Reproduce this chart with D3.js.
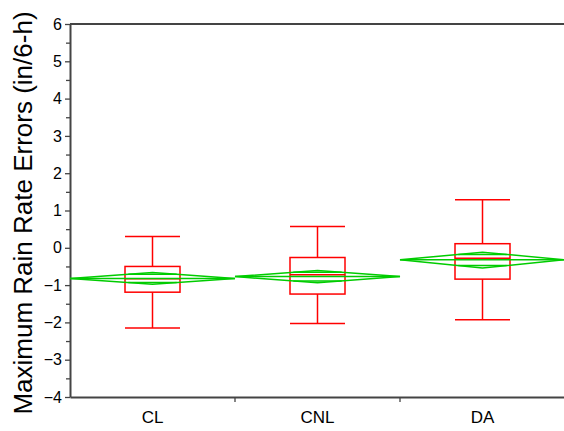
<!DOCTYPE html>
<html>
<head>
<meta charset="utf-8">
<script src="https://cdn.jsdelivr.net/npm/d3@7"></script>
<style>
  html, body { margin: 0; padding: 0; background: #fff; }
  svg { display: block; font-family: Arial, "Liberation Sans", Helvetica, sans-serif; }
</style>
</head>
<body>
<svg id="chart" width="564" height="431"></svg>
<script>
// Groups and their summary statistics (in/6-h)
const categories  = ["CL", "CNL", "DA"];
const whiskerHigh = [0.30, 0.57, 1.29];
const q3          = [-0.50, -0.26, 0.11];
const median      = [-0.83, -0.72, -0.28];
const q1          = [-1.19, -1.24, -0.84];
const whiskerLow  = [-2.15, -2.03, -1.93];
// Means diamonds: group mean with its confidence interval
const means       = [-0.82, -0.77, -0.32];
const ciLow       = [-0.98, -0.94, -0.54];
const ciHigh      = [-0.66, -0.61, -0.12];
const yTicks      = [-4, -3, -2, -1, 0, 1, 2, 3, 4, 5, 6];
const yTitle      = "Maximum Rain Rate Errors (in/6-h)";

const svg = d3.select("#chart");
const plotLeft = 70, plotRight = 565, plotTop = 24, plotBottom = 397;

const x = d3.scaleBand().domain(categories).range([plotLeft, plotRight]).padding(0);
const y = d3.scaleLinear().domain([-4, 6]).range([plotBottom, plotTop]);

const axisColor = "#444";
const red = "#ff0000";
const green = "#00cc00";

// frame: top border
svg.append("line")
  .attr("x1", plotLeft).attr("x2", plotRight).attr("y1", plotTop).attr("y2", plotTop)
  .attr("stroke", axisColor).attr("stroke-width", 2);

// y axis with minor ticks at half units
const yMinor = d3.range(-3.5, 6, 1);
svg.append("g")
  .attr("transform", `translate(${plotLeft},0)`)
  .call(d3.axisLeft(y).tickValues(yMinor).tickSize(4).tickFormat(""))
  .call(g => g.select(".domain").remove())
  .call(g => g.selectAll("line").attr("stroke", axisColor).attr("stroke-width", 1.3));

const yAxis = svg.append("g")
  .attr("transform", `translate(${plotLeft},0)`)
  .call(d3.axisLeft(y).tickValues(yTicks).tickSize(5).tickSizeOuter(0).tickPadding(3).tickFormat(d3.format("d")));
yAxis.select(".domain").attr("stroke", axisColor).attr("stroke-width", 2);
yAxis.selectAll("line").attr("stroke", axisColor).attr("stroke-width", 1.3);
yAxis.selectAll("text").attr("font-size", 16).attr("fill", "#000")
  .attr("font-family", "Arial, 'Liberation Sans', sans-serif");

// x axis: ticks mark boundaries between groups
const xAxis = svg.append("g")
  .attr("transform", `translate(0,${plotBottom})`)
  .call(d3.axisBottom(x).tickSize(0).tickSizeOuter(0).tickPadding(14));
xAxis.select(".domain").attr("stroke", axisColor).attr("stroke-width", 2);
xAxis.selectAll("text").attr("font-size", 17).attr("fill", "#000")
  .attr("font-family", "Arial, 'Liberation Sans', sans-serif");
xAxis.selectAll(".sep")
  .data(categories.slice(1))
  .enter().append("line")
  .attr("class", "sep")
  .attr("x1", d => x(d)).attr("x2", d => x(d))
  .attr("y1", 0).attr("y2", 5)
  .attr("stroke", axisColor).attr("stroke-width", 1.3);

// y axis title
svg.append("text")
  .attr("transform", `translate(23,213) rotate(-90)`)
  .attr("text-anchor", "middle")
  .attr("dominant-baseline", "central")
  .attr("font-size", 26)
  .attr("fill", "#000")
  .text(yTitle);

const bw = x.bandwidth();
const boxW = bw / 3;

// box plots
categories.forEach((c, i) => {
  const cx = x(c) + bw / 2;
  const g = svg.append("g").attr("stroke", red).attr("fill", "none").attr("stroke-width", 1.5);
  // whiskers
  g.append("line").attr("x1", cx).attr("x2", cx).attr("y1", y(whiskerHigh[i])).attr("y2", y(q3[i]));
  g.append("line").attr("x1", cx).attr("x2", cx).attr("y1", y(q1[i])).attr("y2", y(whiskerLow[i]));
  g.append("line").attr("x1", cx - boxW / 2).attr("x2", cx + boxW / 2).attr("y1", y(whiskerHigh[i])).attr("y2", y(whiskerHigh[i]));
  g.append("line").attr("x1", cx - boxW / 2).attr("x2", cx + boxW / 2).attr("y1", y(whiskerLow[i])).attr("y2", y(whiskerLow[i]));
  // box and median
  g.append("rect").attr("x", cx - boxW / 2).attr("y", y(q3[i]))
    .attr("width", boxW).attr("height", y(q1[i]) - y(q3[i]));
  g.append("line").attr("x1", cx - boxW / 2).attr("x2", cx + boxW / 2).attr("y1", y(median[i])).attr("y2", y(median[i]));
});

// means diamonds with overlap marks
categories.forEach((c, i) => {
  const x0 = x(c), x1 = x(c) + bw, cx = x0 + bw / 2;
  const m = means[i];
  const g = svg.append("g").attr("stroke", green).attr("fill", "none").attr("stroke-width", 1.5);
  const pts = [[x0, y(m)], [cx, y(ciHigh[i])], [x1, y(m)], [cx, y(ciLow[i])]];
  g.append("path").attr("d", d3.line()(pts) + "Z");
  g.append("line").attr("x1", x0).attr("x2", x1).attr("y1", y(m)).attr("y2", y(m));
  const k = 1 / Math.SQRT2;
  const hw = (bw / 2) * (1 - k);
  [m + (ciHigh[i] - m) * k, m - (m - ciLow[i]) * k].forEach(v => {
    g.append("line").attr("x1", cx - hw).attr("x2", cx + hw).attr("y1", y(v)).attr("y2", y(v));
  });
});
</script>
</body>
</html>
